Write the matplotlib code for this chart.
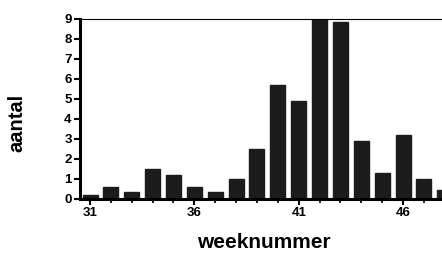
import matplotlib
matplotlib.use("Agg")
import matplotlib.pyplot as plt
from matplotlib.ticker import MultipleLocator

weeks = list(range(31, 49))
aantal = [0.2, 0.6, 0.35, 1.5, 1.2, 0.6, 0.35, 1.0, 2.5, 5.7,
          4.9, 9.0, 8.85, 2.9, 1.3, 3.2, 1.0, 0.45]
xticks = [31, 36, 41, 46]
yticks = list(range(0, 10))

plt.rcParams["font.family"] = "Liberation Sans"
plt.rcParams["font.weight"] = "bold"

fig = plt.figure(figsize=(4.42, 2.56), dpi=100)
ax = fig.add_axes([0.181, 0.223, 0.83, 0.703])

ax.bar(weeks, aantal, width=0.72, color="#1c1c1c", edgecolor="#1c1c1c")

ax.set_xlim(30.52, 48.1)
ax.set_ylim(0, 9)
ax.set_xticks(xticks)
ax.xaxis.set_minor_locator(MultipleLocator(1))
ax.set_yticks(yticks)

ax.spines["right"].set_visible(False)
ax.spines["left"].set_linewidth(2.2)
ax.spines["bottom"].set_linewidth(2.2)
ax.spines["top"].set_linewidth(0.8)

ax.tick_params(axis="both", which="major", labelsize=9.5, width=1.5, length=4, pad=2)
ax.tick_params(axis="x", which="minor", width=1.2, length=3)
for lbl in ax.get_xticklabels() + ax.get_yticklabels():
    lbl.set_fontweight("bold")

ax.set_xlabel("weeknummer", fontsize=15, fontweight="bold", labelpad=10)
ax.set_ylabel("aantal", fontsize=14.5, fontweight="bold")
ax.yaxis.set_label_coords(-0.145, 0.42)

fig.savefig("out.png", dpi=100)
